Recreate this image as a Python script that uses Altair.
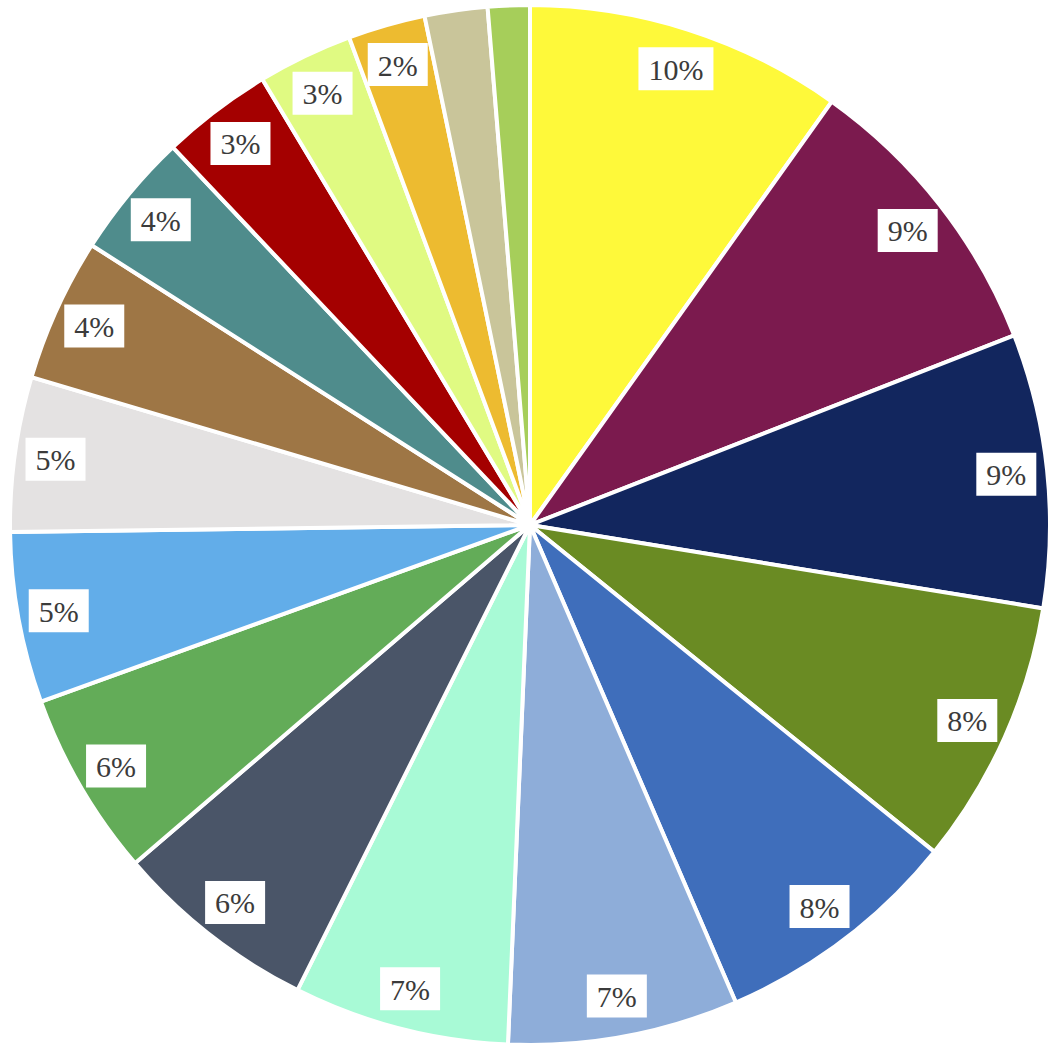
import altair as alt
import pandas as pd

# Slice shares, clockwise from 12 o'clock
segments = [
    "S01", "S02", "S03", "S04", "S05", "S06", "S07", "S08", "S09",
    "S10", "S11", "S12", "S13", "S14", "S15", "S16", "S17", "S18",
]
values = [9.85, 9.2, 8.5, 8.25, 7.7, 7.15, 6.7, 6.35, 5.75,
          5.3, 4.8, 4.45, 3.9, 3.45, 2.95, 2.4, 1.95, 1.3]
colors = [
    "#fef93a", "#7b1a4e", "#12265e", "#6a8b23", "#3f6ebb", "#8eadd9",
    "#a8fad6", "#4a5568", "#63ac58", "#62ade9", "#e4e2e2", "#9e7645",
    "#4f8c8c", "#a40000", "#e0fa82", "#edbb30", "#c9c59a", "#a6ce5a",
]

df = pd.DataFrame({
    "segment": segments,
    "value": values,
    "order": list(range(len(segments))),
})

CX, CY = 530, 525      # pie centre in pixels
R_OUT = 520            # outer radius
R_LABEL = 479          # radius of the label boxes

pie = alt.Chart(df).mark_arc(
    outerRadius=R_OUT, stroke="white", strokeWidth=4
).encode(
    theta=alt.Theta("value:Q", stack=True),
    color=alt.Color("segment:N", scale=alt.Scale(domain=segments, range=colors), legend=None),
    order=alt.Order("order:Q"),
    x=alt.value(CX),
    y=alt.value(CY),
)

labels_base = (
    alt.Chart(df)
    .transform_joinaggregate(total="sum(value)")
    .transform_window(cum="sum(value)", sort=[alt.SortField("order")], frame=[None, 0])
    .transform_calculate(
        pct="datum.value / datum.total",
        mid="(datum.cum - datum.value / 2) / datum.total * 2 * PI",
    )
    .transform_filter("datum.pct >= 0.02")
    .transform_calculate(
        label="format(datum.pct, '.0%')",
        px=f"{CX} + {R_LABEL} * sin(datum.mid)",
        py=f"{CY} - {R_LABEL} * cos(datum.mid)",
    )
    .transform_calculate(
        bw="15 * length(datum.label) + 30",
        bx1="datum.px - datum.bw / 2",
        bx2="datum.px + datum.bw / 2",
        by1="datum.py - 21.5",
        by2="datum.py + 21.5",
    )
)

boxes = labels_base.mark_rect(color="white").encode(
    x=alt.X("bx1:Q", scale=None, axis=None),
    x2="bx2:Q",
    y=alt.Y("by1:Q", scale=None, axis=None),
    y2="by2:Q",
)

texts = labels_base.mark_text(
    font="Liberation Serif", fontSize=30, color="#3b3b3b",
    baseline="alphabetic", align="center", dy=11,
).encode(
    x=alt.X("px:Q", scale=None, axis=None),
    y=alt.Y("py:Q", scale=None, axis=None),
    text="label:N",
)

chart = alt.layer(pie, boxes, texts).properties(
    width=1050, height=1048,
    autosize=alt.AutoSizeParams(type="none"),
    padding=0,
    background="white",
).configure_view(stroke=None)

chart.save("out.html", embed_options={"renderer": "svg", "actions": False})
